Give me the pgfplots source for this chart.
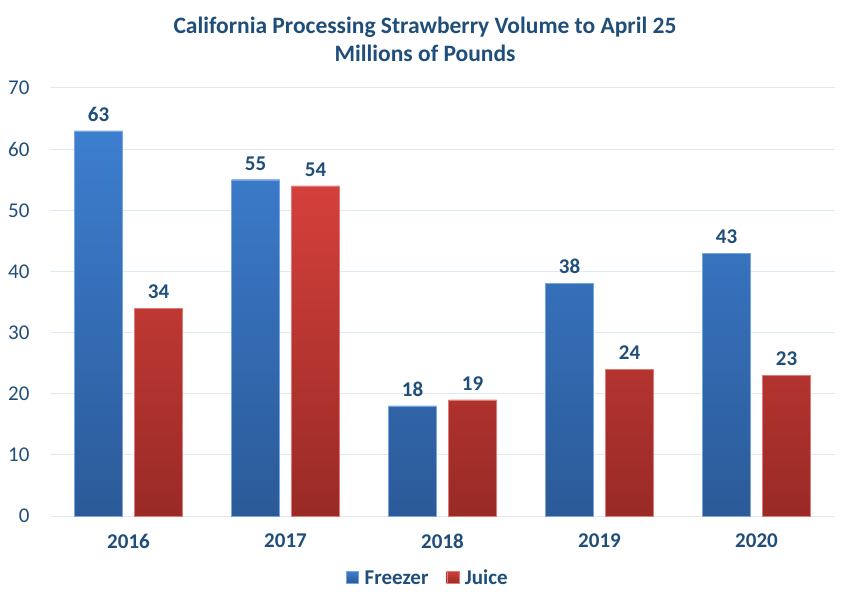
\documentclass[border=0pt]{standalone}
\usepackage{fontspec}
\setmainfont{Carlito}
\usepackage{pgfplots}
\pgfplotsset{compat=1.18}
\definecolor{txt}{HTML}{1F4E79}
\definecolor{gridc}{HTML}{DDE9F5}
\definecolor{btop}{HTML}{3D7ECF}
\definecolor{bbot}{HTML}{2B5A98}
\definecolor{rtop}{HTML}{D4403B}
\definecolor{rbot}{HTML}{992A26}
\newcommand{\fs}{\fontsize{21}{24}\selectfont}

\begin{document}
\begin{tikzpicture}
\begin{axis}[
    at={(0,0)}, anchor=south west,
    scale only axis,
    width=785pt, height=428pt,
    ymin=0, ymax=70, ytick={0,10,...,70},
    xmin=-0.5, xmax=4.5,
    xtick={0,1,2,3,4},
    xticklabels={2016,2017,2018,2019,2020},
    axis line style={draw=none},
    major tick style={draw=none},
    ymajorgrids,
    grid style={gridc, line width=1pt},
    ybar=12pt, bar width=48pt,
    /pgf/number format/assume math mode=true,
    yticklabel style={font=\fs, text=txt, xshift=-17pt},
    xticklabel style={font=\fs\bfseries, text=txt, yshift=-10pt},
    nodes near coords,
    every node near coord/.append style={font=\fs\bfseries, text=txt, yshift=6pt},
    legend style={at={(378pt,-62pt)}, anchor=center, draw=none, font=\fs\bfseries, text=txt,
        legend columns=-1,
        /tikz/every odd column/.append style={column sep=4pt},
        /tikz/every even column/.append style={column sep=16pt}},
    legend image code/.code={\fill[#1] (0pt,-5pt) rectangle (12pt,7pt);},
]
\addplot[draw=btop!70!white, top color=btop, bottom color=bbot, fill=btop] coordinates {(0,63) (1,55) (2,18) (3,38) (4,43)};
\addplot[draw=rtop!70!white, top color=rtop, bottom color=rbot, fill=rtop] coordinates {(0,34) (1,54) (2,19) (3,24) (4,23)};
\legend{Freezer,Juice}
\end{axis}
\node[font=\fontsize{23.5}{28}\selectfont\bfseries, text=txt, align=center] at (375pt,477pt)
  {California Processing Strawberry Volume to April 25\\Millions of Pounds};
\path (-50pt,-88pt) rectangle (800pt,516pt);
\end{tikzpicture}
\end{document}
